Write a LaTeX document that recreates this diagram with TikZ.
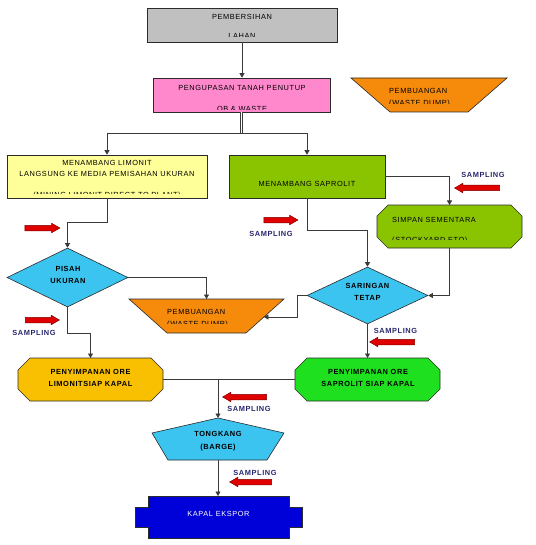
\documentclass[tikz,border=0pt]{standalone}
\usepackage{fontspec}
\newfontfamily\dfont{Liberation Sans}[LetterSpace=8]
\usetikzlibrary{arrows.meta,shapes.geometric,shapes.arrows,calc}
\definecolor{cgray}{HTML}{C0C0C0}
\definecolor{cpink}{HTML}{FF88CC}
\definecolor{corange}{HTML}{F58A0B}
\definecolor{cyellow}{HTML}{FFFF99}
\definecolor{cgreen}{HTML}{8AC400}
\definecolor{ccyan}{HTML}{3CC4F0}
\definecolor{cgold}{HTML}{F8C000}
\definecolor{cbright}{HTML}{1EE01E}
\definecolor{cblue}{HTML}{0000D8}
\definecolor{cred}{HTML}{E00000}
\definecolor{cdred}{HTML}{800000}
\definecolor{cnavy}{HTML}{27276E}
\definecolor{cline}{HTML}{2B2B2B}
\definecolor{ccon}{HTML}{3A3A3A}
\newcommand\octpath[2]{([xshift=#2]#1.north west) -- ([xshift=-#2]#1.north east) -- ([yshift=-#2]#1.north east) -- ([yshift=#2]#1.south east) -- ([xshift=-#2]#1.south east) -- ([xshift=#2]#1.south west) -- ([yshift=#2]#1.south west) -- ([yshift=-#2]#1.north west) -- cycle}
\newcommand\trappath[2]{(#1.north west) -- (#1.north east) -- ([xshift=-#2]#1.south east) -- ([xshift=#2]#1.south west) -- cycle}
\begin{document}
\begin{tikzpicture}[x=1pt,y=-1pt,
  shp/.style={draw=cline, line width=0.6pt},
  bx/.style={shp, inner sep=0pt},
  inv/.style={inner sep=0pt, outer sep=0pt},
  txt/.style={inner sep=0pt, anchor=base, font=\dfont\fontsize{7.4}{8}\selectfont, text=black},
  btxt/.style={inner sep=0pt, anchor=base, font=\dfont\fontsize{7.4}{8}\selectfont\bfseries, text=black},
  smp/.style={btxt, text=cnavy},
  con/.style={draw=ccon, line width=0.7pt},
  arr/.style={con, -{Triangle[length=4.5pt,width=5pt]}},
  redr/.style={single arrow, draw=cdred, fill=cred, line width=0.5pt, inner xsep=0pt, inner ysep=2.5pt, single arrow head extend=2pt, single arrow tip angle=60},
]
\useasboundingbox (0,0) rectangle (535,545);

% ---- boxes
\node[bx, fill=cgray, minimum width=190pt, minimum height=34pt] (pem) at (242,25) {};
\node[bx, fill=cpink, minimum width=177pt, minimum height=34pt] (peng) at (241.5,95) {};
\node[inv, minimum width=156pt, minimum height=34pt] (wd1) at (429,95) {};
\draw[shp, fill=corange] \trappath{wd1}{39pt};
\node[bx, fill=cyellow, minimum width=200pt, minimum height=43pt] (yel) at (107,176.5) {};
\node[bx, fill=cgreen, minimum width=156pt, minimum height=43pt] (sap) at (307,176.5) {};
\node[inv, minimum width=145pt, minimum height=43pt] (simp) at (449.5,226.5) {};
\draw[shp, fill=cgreen] \octpath{simp}{11pt};
\node[diamond, shp, fill=ccyan, inner sep=0pt, minimum width=121pt, minimum height=59pt] (pisah) at (67.5,277.5) {};
\node[inv, minimum width=155pt, minimum height=34pt] (wd2) at (206.5,316) {};
\draw[shp, fill=corange] \trappath{wd2}{38pt};
\node[diamond, shp, fill=ccyan, inner sep=0pt, minimum width=121pt, minimum height=57pt] (sar) at (367.5,295.5) {};
\node[inv, minimum width=145pt, minimum height=43pt] (limo) at (90.5,379.5) {};
\draw[shp, fill=cgold] \octpath{limo}{12pt};
\node[inv, minimum width=145pt, minimum height=43pt] (sapo) at (367.5,379.5) {};
\draw[shp, fill=cbright] \octpath{sapo}{12pt};
\node[inv, minimum width=132pt, minimum height=42pt] (tk) at (218,439) {};
\draw[shp, fill=ccyan] (tk.north) -- ([yshift=-15pt]tk.north east) -- ([xshift=-17pt]tk.south east) -- ([xshift=16pt]tk.south west) -- ([yshift=-15pt]tk.north west) -- cycle;
\node[inv, minimum width=141pt, minimum height=42pt] (kap) at (218.5,517) {};
\draw[shp, fill=cblue] (kap.north west) -- (kap.north east) -- ([yshift=-11pt]kap.north east) -- ++(13,0) -- ++(0,20) -- ++(-13,0) -- (kap.south east) -- (kap.south west) -- ([yshift=11pt]kap.south west) -- ++(-13,0) -- ++(0,-20) -- ++(13,0) -- cycle;

% ---- texts
\node[txt] (t1) at (242,19.3) {PEMBERSIHAN};
\begin{scope}\clip (147,8) rectangle (337,36.7);
\node[txt] (t2) at (242,39) {LAHAN};\end{scope}
\node[txt] (t3) at (242,90.7) {PENGUPASAN TANAH PENUTUP};
\begin{scope}\clip (153,78) rectangle (330,109.3);
\node[txt] (t4) at (242,111.5) {OB \& WASTE};\end{scope}
\node[txt, anchor=base west] (t5) at (389,94) {PEMBUANGAN};
\begin{scope}\clip (351,78) rectangle (507,103.3);
\node[txt, anchor=base west] (t6) at (389,105.8) {(WASTE DUMP)};\end{scope}
\node[txt] (t7) at (107,165.5) {MENAMBANG LIMONIT};
\node[txt] (t8) at (107,177) {LANGSUNG KE MEDIA PEMISAHAN UKURAN};
\begin{scope}\clip (7,155) rectangle (207,194);
\node[txt] (t9) at (107,197) {(MINING LIMONIT DIRECT TO PLANT)};\end{scope}
\node[txt] (t10) at (307,186) {MENAMBANG SAPROLIT};
\node[txt, anchor=base west] (t11) at (392,222.3) {SIMPAN SEMENTARA};
\begin{scope}\clip (377,205) rectangle (522,239.3);
\node[txt, anchor=base west] (t12) at (392,242) {(STOCKYARD ETO)};\end{scope}
\node[btxt] (t13) at (68,271.5) {PISAH};
\node[btxt] (t14) at (68,283.5) {UKURAN};
\node[txt, anchor=base west] (t15) at (167,314.7) {PEMBUANGAN};
\begin{scope}\clip (129,299) rectangle (284,323.3);
\node[txt, anchor=base west] (t16) at (167,326.3) {(WASTE DUMP)};\end{scope}
\node[btxt] (t17) at (367.5,288.3) {SARINGAN};
\node[btxt] (t18) at (367.5,300.3) {TETAP};
\node[btxt] (t19) at (90.5,374.5) {PENYIMPANAN ORE};
\node[btxt] (t20) at (90.5,386.5) {LIMONITSIAP KAPAL};
\node[btxt] (t21) at (368,374.3) {PENYIMPANAN ORE};
\node[btxt] (t22) at (368,386) {SAPROLIT SIAP KAPAL};
\node[btxt] (t23) at (218,436) {TONGKANG};
\node[btxt] (t24) at (218,449) {(BARGE)};
\node[txt, text=white] (t25) at (218.5,516.7) {KAPAL EKSPOR};

% ---- sampling labels
\node[smp] (s1) at (483,177.5) {SAMPLING};
\node[smp] (s2) at (271,236.5) {SAMPLING};
\node[smp] (s3) at (34,335.5) {SAMPLING};
\node[smp] (s4) at (395.5,333.5) {SAMPLING};
\node[smp] (s5) at (249,411.5) {SAMPLING};
\node[smp] (s6) at (255,475.5) {SAMPLING};

% ---- red arrows
\node[redr, minimum height=35pt] (r1) at (40,228) {};
\node[redr, minimum height=45pt, shape border rotate=180] (r2) at (479.5,188) {};
\node[redr, minimum height=34pt] (r3) at (278.5,220) {};
\node[redr, minimum height=34pt] (r4) at (40,320) {};
\node[redr, minimum height=45pt, shape border rotate=180] (r5) at (394.5,342) {};
\node[redr, minimum height=44pt, shape border rotate=180] (r6) at (247,397) {};
\node[redr, minimum height=42pt, shape border rotate=180] (r7) at (253,482) {};

% ---- connectors
\coordinate (br) at (242,133);
\draw[arr] (pem.south) -- (pem.south |- peng.north);
\draw[con, double, double distance=1.2pt] (peng.south) -- (peng.south |- br);
\draw[arr] (br) -| (yel.north);
\draw[arr] (br) -| (sap.north);
\draw[arr] (yel.south) -- ++(0,24) -| (pisah.north);
\draw[arr] (pisah.east) -| (wd2.north);
\draw[arr] (pisah.south) -- ++(0,26) -| (limo.north);
\draw[arr] (sap.south) -- ++(0,32) -| (sar.north);
\draw[arr] (sap.east) -| (simp.north);
\draw[arr] (simp.south) |- (sar.east);
\coordinate (wd2r) at ($(wd2.north east)!0.53!([xshift=-38pt]wd2.south east)$);
\draw[arr] (sar.west) -- ++(-9,0) |- (wd2r);
\draw[arr] (sar.south) -- (sapo.north);
\draw[con] (limo.east) -- (sapo.west);
\draw[arr] (limo.east -| tk.north) -- (tk.north);
\draw[arr] (tk.south) -- (tk.south |- kap.north);
\end{tikzpicture}
\end{document}
